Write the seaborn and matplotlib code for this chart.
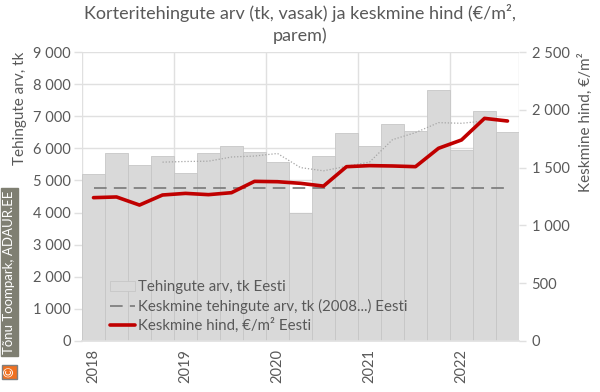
import numpy as np
import matplotlib
matplotlib.use("Agg")
import matplotlib.pyplot as plt
import seaborn as sns

# Quarterly data 2018 Q1 ... 2022 Q3
quarters = ["2018Q1", "2018Q2", "2018Q3", "2018Q4",
            "2019Q1", "2019Q2", "2019Q3", "2019Q4",
            "2020Q1", "2020Q2", "2020Q3", "2020Q4",
            "2021Q1", "2021Q2", "2021Q3", "2021Q4",
            "2022Q1", "2022Q2", "2022Q3"]
years = ["2018", "2019", "2020", "2021", "2022"]

# number of deals (left axis)
deals = [5200, 5850, 5480, 5760, 5230, 5870, 6080, 5890, 5570, 4000,
         5770, 6480, 6065, 6760, 6540, 7820, 5960, 7175, 6520]
# 4-quarter trend of deals
deals_trend = [np.nan, np.nan, np.nan, 5570, 5590, 5600, 5730, 5760, 5840,
               5400, 5300, 5440, 5570, 6270, 6490, 6800, 6780, 6850, np.nan]
# long-term average number of deals (2008...)
deals_longterm = [4750] * 19
# average price EUR/m2 (right axis)
price = [1240, 1246, 1176, 1263, 1277, 1266, 1283, 1381, 1378, 1364,
         1340, 1508, 1517, 1514, 1508, 1667, 1739, 1926, 1903]

sns.set_theme(style="white")
plt.rcParams["font.family"] = ["Lato", "DejaVu Sans"]

txt = "#595959"
grid_c = "#e0e0e0"

fig = plt.figure(figsize=(6, 3.92), dpi=100)
ax = fig.add_axes([82 / 600, 1 - 341 / 392, 437 / 600, 289 / 392])
idx = np.arange(len(quarters))

sns.barplot(x=quarters, y=deals, ax=ax, color="#d9d9d9", width=1.0,
            saturation=1, edgecolor="#c6c6c6", linewidth=0.6, zorder=2,
            label="Tehingute arv, tk Eesti")
sns.lineplot(x=idx, y=deals_trend, ax=ax, color="#a6a6a6", lw=0.9,
             linestyle=(0, (1, 1.5)), zorder=3)
sns.lineplot(x=idx, y=deals_longterm, ax=ax, color="#808080", lw=1.3,
             linestyle=(0, (7, 4)), zorder=3,
             label="Keskmine tehingute arv, tk (2008...) Eesti")

ax.set_xlim(-0.5, len(quarters) - 0.5)
ax.set_ylim(0, 9000)
ax.set_yticks(range(0, 9001, 1000))
ax.set_yticklabels([f"{v:,}".replace(",", " ") for v in range(0, 9001, 1000)],
                   color=txt, fontsize=10.5)
ax.set_xticks(np.arange(0, len(quarters), 4))
ax.set_xticklabels(years, rotation=90, color=txt, fontsize=10.5)
ax.set_xticks(np.arange(-0.5, len(quarters), 4).tolist() + [len(quarters) - 0.5],
              minor=True)
ax.tick_params(axis="x", which="major", length=0, pad=6)
ax.tick_params(axis="x", which="minor", length=5, color=grid_c, width=1)
ax.tick_params(axis="y", length=6, color=grid_c, width=1, pad=2)
ax.grid(axis="y", color=grid_c, lw=1, zorder=0)
ax.grid(axis="x", which="minor", color=grid_c, lw=1, zorder=0)
ax.set_axisbelow(True)
for s in ["left", "right", "top"]:
    ax.spines[s].set_visible(False)
ax.spines["bottom"].set_color(grid_c)
ax.set_xlabel("")
ax.set_ylabel("Tehingute arv, tk", color=txt, fontsize=11, loc="top", labelpad=4)

ax2 = ax.twinx()
sns.lineplot(x=idx, y=price, ax=ax2, color="#c00000", lw=2.6,
             label="Keskmine hind, €/m² Eesti", zorder=4)
ax2.set_ylim(0, 2500)
ax2.set_yticks(range(0, 2501, 500))
ax2.set_yticklabels([f"{v:,}".replace(",", " ") for v in range(0, 2501, 500)],
                    color=txt, fontsize=10.5)
ax2.tick_params(axis="y", length=5, color=grid_c, width=1, pad=4)
for s in ax2.spines.values():
    s.set_visible(False)
ax2.set_ylabel("Keskmine hind, €/m²", color=txt, fontsize=11, loc="top", labelpad=6)
ax2.grid(False)

h1, l1 = ax.get_legend_handles_labels()
h2, l2 = ax2.get_legend_handles_labels()
if ax.legend_:
    ax.legend_.remove()
# bars first, then the long-term line, then price
order = [l1.index("Tehingute arv, tk Eesti"),
         l1.index("Keskmine tehingute arv, tk (2008...) Eesti")]
handles = [h1[i] for i in order] + h2
labels = [l1[i] for i in order] + l2
ax2.legend(handles, labels, loc="lower left", bbox_to_anchor=(0.04, -0.01),
           frameon=False, fontsize=10.8, labelcolor=txt, handlelength=1.7,
           handletextpad=0.15, labelspacing=0.3, borderaxespad=0.3)

fig.text(0.5, 1 - 4 / 392,
         "Korteritehingute arv (tk, vasak) ja keskmine hind (€/m²,\nparem)",
         ha="center", va="top", fontsize=13, color=txt, linespacing=1.4)

# copyright box
fig.text(9.5 / 600, 1 - 372 / 392, "©", rotation=90, ha="center", va="center",
         fontsize=9, color="white",
         bbox=dict(boxstyle="square,pad=0.15", fc="#f07020", ec="#7f7f7f", lw=1))
fig.text(9.5 / 600, 1 - 272 / 392, "Tõnu Toompark, ADAUR.EE", rotation=90,
         ha="center", va="center", fontsize=9.5, color="white",
         bbox=dict(boxstyle="square,pad=0.2", fc="#7f7f72", ec="#7f7f72", lw=1))

fig.savefig("out.png", dpi=100)
